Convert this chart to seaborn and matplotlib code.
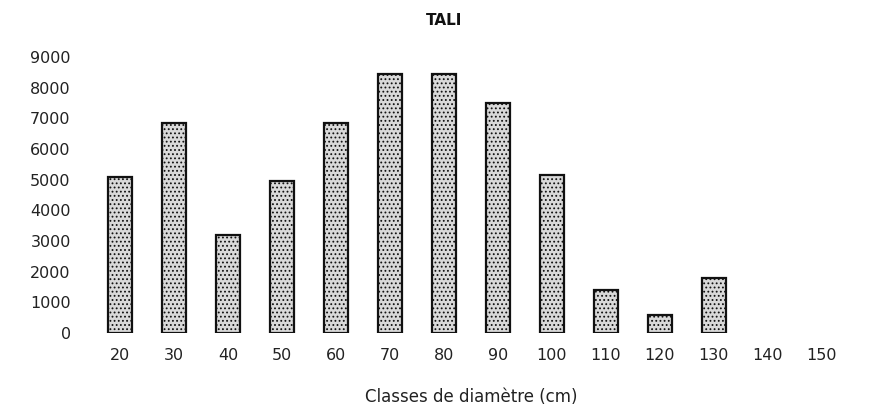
import matplotlib
matplotlib.use("Agg")
import matplotlib.pyplot as plt
import seaborn as sns
import pandas as pd

# classes de diamètre (cm) et effectifs
classes = ["20", "30", "40", "50", "60", "70", "80", "90", "100", "110", "120", "130", "140", "150"]
effectifs = [5100, 6850, 3200, 4950, 6850, 8450, 8450, 7500, 5150, 1400, 600, 1780, 0, 0]

df = pd.DataFrame({"classe": classes, "effectif": effectifs})

sns.set_style("white")
plt.rcParams["font.family"] = ["DejaVu Sans"]
plt.rcParams["hatch.color"] = "#333333"
plt.rcParams["hatch.linewidth"] = 0.8

fig = plt.figure(figsize=(8.85, 4.11), dpi=100)
ax = fig.add_axes([0.105, 0.19, 0.854, 0.671])

sns.barplot(data=df, x="classe", y="effectif", order=classes, width=0.44,
            color="#d9d9d9", edgecolor="#111111", linewidth=1.6, hatch="....",
            ax=ax)

# les classes vides ne sont pas dessinées
for patch in ax.patches:
    if patch.get_height() == 0:
        patch.set_visible(False)

ax.set_ylim(0, 9000)
ax.set_yticks(range(0, 9001, 1000))
ax.set_xlim(-0.5, len(classes) - 0.5)
ax.tick_params(axis="both", length=0, labelsize=11.5, colors="#222222")
ax.tick_params(axis="x", pad=11)
ax.tick_params(axis="y", pad=16)
sns.despine(ax=ax, left=True, bottom=True)

ax.set_xlabel("Classes de diamètre (cm)", fontsize=12, color="#222222", labelpad=18)
ax.set_ylabel("")
fig.text(0.502, 0.951, "TALI", ha="center", va="center", fontsize=11,
         fontweight="bold", color="#111111")

fig.savefig("out.png", dpi=100)
